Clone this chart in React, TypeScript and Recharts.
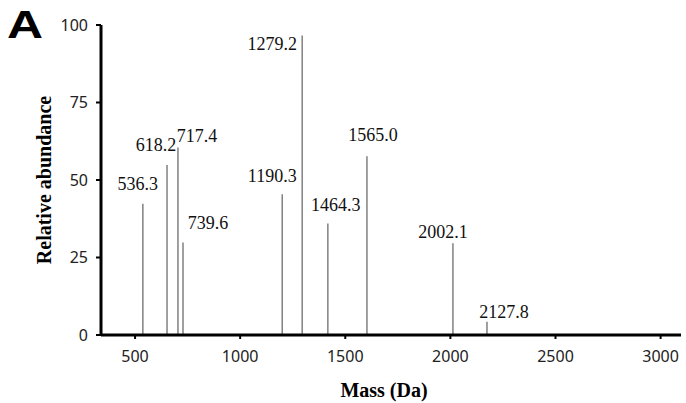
import { BarChart, Bar, XAxis, YAxis, LabelList } from "recharts";

// peak labels as printed, where each stick sits on the mass axis, and its height
const peakLabels = ["536.3", "618.2", "717.4", "739.6", "1190.3", "1279.2", "1464.3", "1565.0", "2002.1", "2127.8"];
const peakMass = [536, 651, 703, 727, 1199, 1294, 1416, 1602, 2011, 2173];
const abundance = [42.3, 54.8, 60.5, 29.8, 45.4, 96.6, 36.0, 57.7, 29.6, 4.3];

const massTicks = [500, 1000, 1500, 2000, 2500, 3000];
const abundanceTicks = [0, 25, 50, 75, 100];

const data = peakMass.map((m, i) => ({ mass: m, value: abundance[i], label: peakLabels[i] }));

// where each label sits relative to the top of its stick
const labelOffsets: [number, number][] = [
  [-5, -20], [-11, -20], [19, -11], [25, -20], [-10, -18],
  [-30, 8], [8, -18], [6, -21], [-10, -11], [17, -10],
];

const PeakLabel = (props: any) => {
  const { x, y, width, index, value } = props;
  const [dx, dy] = labelOffsets[index] || [0, -12];
  return (
    <text
      x={x + width / 2 + dx}
      y={y + dy}
      textAnchor="middle"
      dominantBaseline="central"
      fontFamily="'Liberation Serif', 'Times New Roman', serif"
      fontSize={18}
      fill="#111"
    >
      {value}
    </text>
  );
};

const tickStyle = { fill: "#222", fontSize: 16, fontFamily: "'Noto Sans', sans-serif" };

export default function App() {
  return (
    <div style={{ position: "absolute", left: 0, top: 0, width: 686, height: 403, background: "#fff" }}>
      <BarChart width={686} height={403} data={data} margin={{ top: 25, right: 5, left: 0, bottom: 0 }}>
        <XAxis
          dataKey="mass"
          type="number"
          domain={[338, 3097]}
          ticks={massTicks}
          allowDataOverflow
          tick={tickStyle}
          tickSize={4}
          tickMargin={12}
          axisLine={{ stroke: "#000", strokeWidth: 3 }}
          tickLine={{ stroke: "#000", strokeWidth: 2 }}
          height={68}
        />
        <YAxis
          type="number"
          domain={[0, 100]}
          ticks={abundanceTicks}
          width={101}
          tick={tickStyle}
          tickSize={5}
          tickMargin={8}
          axisLine={{ stroke: "#000", strokeWidth: 3 }}
          tickLine={{ stroke: "#000", strokeWidth: 2 }}
        />
        <Bar dataKey="value" fill="#808080" barSize={1.5} isAnimationActive={false}>
          <LabelList dataKey="label" content={PeakLabel} />
        </Bar>
      </BarChart>
      <svg width={686} height={403} style={{ position: "absolute", left: 0, top: 0, pointerEvents: "none" }}>
        <text
          x={25}
          y={38}
          textAnchor="middle"
          fontFamily="'Liberation Sans', Arial, sans-serif"
          fontWeight={700}
          fontSize={39}
          transform="translate(25 0) scale(1.28 1) translate(-25 0)"
          fill="#000"
        >
          A
        </text>
        <text
          x={44}
          y={180}
          transform="rotate(-90 44 180)"
          textAnchor="middle"
          dominantBaseline="central"
          fontFamily="'Liberation Serif', 'Times New Roman', serif"
          fontWeight={700}
          fontSize={20}
          fill="#000"
        >
          Relative abundance
        </text>
        <text
          x={384}
          y={390}
          textAnchor="middle"
          dominantBaseline="central"
          fontFamily="'Liberation Serif', 'Times New Roman', serif"
          fontWeight={700}
          fontSize={20}
          fill="#000"
        >
          Mass (Da)
        </text>
      </svg>
    </div>
  );
}
